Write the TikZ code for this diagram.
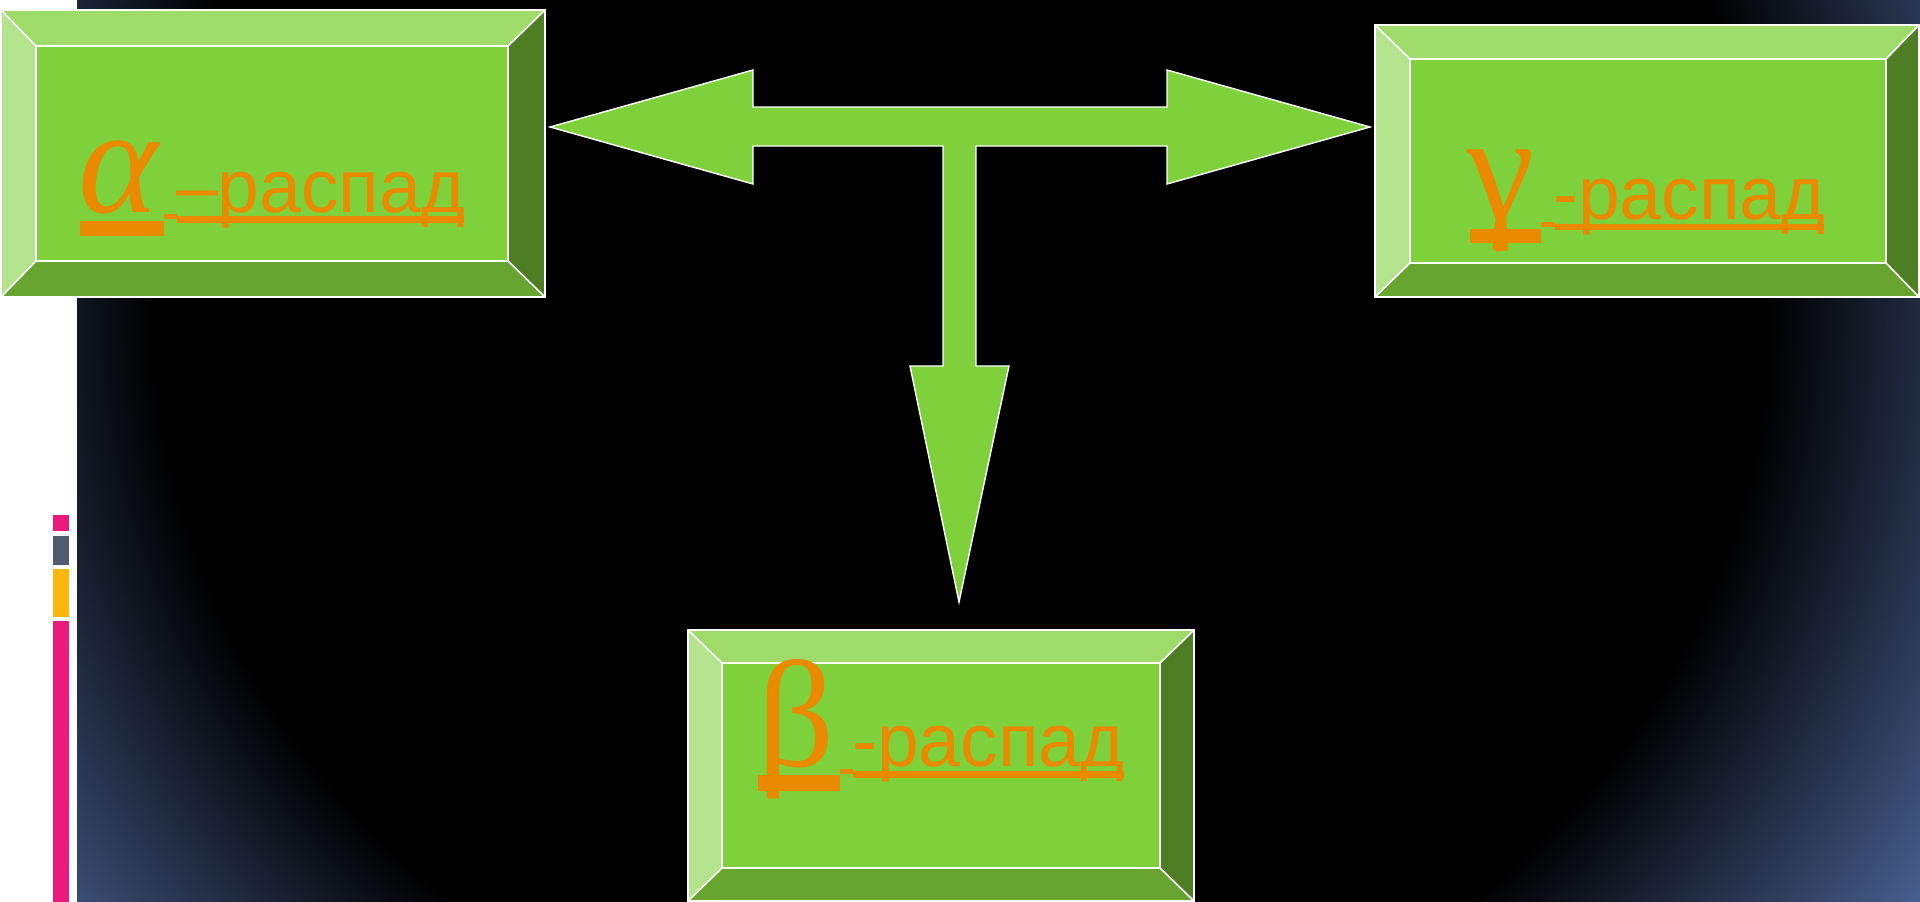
\documentclass[tikz,border=0pt]{standalone}
\usepackage{fontspec}
\setmainfont{Liberation Sans}
\newfontfamily\grk{Liberation Serif}
\usetikzlibrary{fit,calc}
\definecolor{facegreen}{HTML}{7FD13B}
\definecolor{bvtopc}{HTML}{9EDB68}
\definecolor{bvleftc}{HTML}{B3E38C}
\definecolor{bvrightc}{HTML}{4E7E23}
\definecolor{bvbotc}{HTML}{67A530}
\definecolor{orng}{HTML}{E98A00}
\definecolor{bgblue}{HTML}{4A6192}
\definecolor{barpink}{HTML}{EC197C}
\definecolor{bargray}{HTML}{4F5B6E}
\definecolor{baryellow}{HTML}{FFB60A}
\pgfdeclareradialshading{bgshade}{\pgfpoint{0bp}{0bp}}{color(0bp)=(black); color(20.2bp)=(black); color(28.9bp)=(bgblue); color(50bp)=(bgblue)}
\tikzset{
  wline/.style={draw=white, line width=1.6pt, line join=miter},
  face/.style={draw=white, line width=1.6pt, fill=facegreen, inner sep=0pt, outer sep=0pt},
  greek/.style={font=\grk\fontsize{152}{152}\selectfont, text=orng, inner sep=0pt, anchor=base west},
  cyr/.style={font=\fontsize{75}{78}\selectfont, text=orng, inner sep=0pt, anchor=base west},
  uline/.style={fill=orng},
  tarrow/.style={fill=facegreen, draw=white, line width=1.4pt, line join=miter},
}
% name, outer x1 y1 x2 y2, inner x1 y1 x2 y2
\newcommand\bevelbox[9]{%
  \coordinate (#1-i1) at (#6,#7);
  \coordinate (#1-i2) at (#8,#9);
  \fill[bvtopc] (#2,#3) -- (#4,#3) -- (#8,#7) -- (#6,#7) -- cycle;
  \fill[bvleftc] (#2,#3) -- (#6,#7) -- (#6,#9) -- (#2,#5) -- cycle;
  \fill[bvrightc] (#4,#3) -- (#4,#5) -- (#8,#9) -- (#8,#7) -- cycle;
  \fill[bvbotc] (#2,#5) -- (#6,#9) -- (#8,#9) -- (#4,#5) -- cycle;
  \draw[wline] (#2,#3) rectangle (#4,#5);
  \draw[wline] (#2,#3) -- (#6,#7) (#4,#3) -- (#8,#7) (#2,#5) -- (#6,#9) (#4,#5) -- (#8,#9);
  \node[face, fit=(#1-i1)(#1-i2)] (#1) {};
}
\begin{document}
\begin{tikzpicture}[x=1pt,y=-1pt]
\useasboundingbox (0,0) rectangle (1920,902);
% background
\fill[white] (0,0) rectangle (1920,902);
\begin{scope}
  \clip (77,0) rectangle (1920,902);
  \shade[shading=bgshade] (-39,-655) rectangle (1961,1255);
\end{scope}
% side bars
\fill[barpink] (53,515) rectangle (69,531);
\fill[bargray] (53,536) rectangle (69,565);
\fill[baryellow] (53,569) rectangle (69,617);
\fill[barpink] (53,621) rectangle (69,902);
% T-shaped arrow
\draw[tarrow] (550,127) -- (753,70) -- (753,107) -- (1167,107) -- (1167,70) -- (1370,127)
  -- (1167,184) -- (1167,146) -- (976,146) -- (976,366) -- (1009,366) -- (959,602)
  -- (910,366) -- (943,366) -- (943,146) -- (753,146) -- (753,184) -- cycle;
% boxes
\bevelbox{alphabox}{1}{10}{545}{297}{36}{46}{508}{261}
\bevelbox{gammabox}{1375}{25}{1919}{297}{1410}{59}{1886}{263}
\bevelbox{betabox}{688}{630}{1194}{901}{722}{663}{1160}{868}
% alpha label
\fill[uline] (80,221) rectangle (164,236);
\fill[uline] (164,214) rectangle (177,219);
\fill[uline] (177,216) rectangle (464,223);
\node[greek] (alphaG) at (78,212) {\itshape α};
\node[cyr] (alphaT) at (176,212) {–распад};
% gamma label
\fill[uline] (1470,229) rectangle (1541,243);
\fill[uline] (1541,222) rectangle (1555,227);
\fill[uline] (1555,224) rectangle (1824,230);
\node[greek] (gammaG) at (1467,219) {γ};
\node[cyr] (gammaT) at (1553,219) {-распад};
% beta label
\fill[uline] (758,775) rectangle (840,791);
\fill[uline] (840,769) rectangle (853,774);
\fill[uline] (853,771) rectangle (1124,778);
\node[greek] (betaG) at (757,766) {β};
\node[cyr] (betaT) at (852,766) {-распад};
\end{tikzpicture}
\end{document}
